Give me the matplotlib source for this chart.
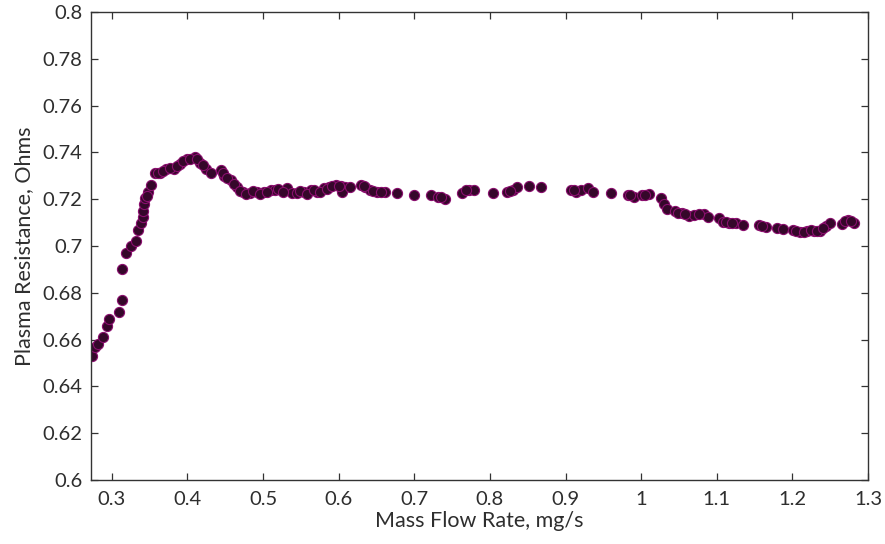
import matplotlib
matplotlib.use("Agg")
import matplotlib.pyplot as plt
from matplotlib.ticker import FuncFormatter, MultipleLocator

# mass flow rate (mg/s) and plasma resistance (ohms)
flow = [
    0.274, 0.278, 0.282, 0.288, 0.294, 0.296, 0.309, 0.314, 0.314, 0.319,
    0.325, 0.332, 0.335, 0.338, 0.341, 0.341, 0.343, 0.3485, 0.352, 0.357,
    0.364, 0.372, 0.382, 0.390, 0.399, 0.410, 0.417, 0.425, 0.431, 0.444,
    0.449, 0.457, 0.4656, 0.474, 0.483, 0.492, 0.501, 0.510, 0.516, 0.532,
    0.538, 0.545, 0.554, 0.563, 0.5715, 0.580, 0.587, 0.596, 0.6025, 0.609,
    0.6046, 0.629, 0.6355, 0.642, 0.651, 0.661, 0.677, 0.699, 0.722, 0.7315,
    0.740, 0.7633, 0.772, 0.779, 0.804, 0.823, 0.830, 0.8355, 0.852, 0.867,
    0.907, 0.914, 0.920, 0.930, 0.937, 0.960, 0.982, 0.991, 1.001, 1.011,
    1.026, 1.0306, 1.034, 1.045, 1.054, 1.063, 1.070, 1.0825, 1.088, 1.1035,
    1.108, 1.116, 1.1255, 1.1345, 1.156, 1.165, 1.180, 1.187, 1.2007, 1.210,
    1.2195, 1.228, 1.237, 1.245, 1.250, 1.265, 1.273, 1.282,
    # extra readings in the dense stretches
    0.3445, 0.346, 0.361, 0.368, 0.377, 0.386, 0.394, 0.404, 0.413, 0.421,
    0.447, 0.453, 0.461, 0.469, 0.478, 0.487, 0.496, 0.505, 0.520, 0.526,
    0.549, 0.558, 0.567, 0.576, 0.584, 0.591, 0.6, 0.615, 0.633, 0.646,
    0.656, 0.735, 0.768, 0.827, 0.911, 0.985, 1.005, 1.049, 1.058, 1.076,
    1.112, 1.120, 1.160, 1.205, 1.215, 1.224, 1.232, 1.241, 1.269, 1.278,
]
resistance = [
    0.653, 0.657, 0.658, 0.661, 0.666, 0.669, 0.672, 0.677, 0.690, 0.697,
    0.700, 0.702, 0.707, 0.710, 0.7125, 0.715, 0.718, 0.723, 0.726, 0.731,
    0.731, 0.733, 0.733, 0.735, 0.737, 0.738, 0.7355, 0.733, 0.731, 0.7325,
    0.730, 0.728, 0.725, 0.723, 0.7226, 0.723, 0.723, 0.724, 0.724, 0.7246,
    0.7225, 0.7227, 0.723, 0.724, 0.723, 0.7247, 0.7253, 0.726, 0.7256, 0.7253,
    0.723, 0.726, 0.725, 0.724, 0.723, 0.723, 0.7225, 0.722, 0.722, 0.721,
    0.720, 0.7226, 0.7241, 0.7241, 0.7228, 0.723, 0.724, 0.7253, 0.7255, 0.7253,
    0.724, 0.723, 0.724, 0.7247, 0.723, 0.7226, 0.7216, 0.721, 0.7218, 0.7224,
    0.7207, 0.718, 0.716, 0.7148, 0.714, 0.7128, 0.7132, 0.7137, 0.7122, 0.7118,
    0.7104, 0.710, 0.710, 0.7088, 0.709, 0.708, 0.7076, 0.7073, 0.7068, 0.7058,
    0.7062, 0.7066, 0.7064, 0.7085, 0.710, 0.7095, 0.711, 0.710,
    0.7205, 0.7215, 0.7312, 0.732, 0.7332, 0.734, 0.7362, 0.7372, 0.737, 0.7345,
    0.7312, 0.729, 0.7265, 0.7235, 0.7222, 0.7235, 0.7222, 0.7232, 0.7242, 0.7232,
    0.7235, 0.7222, 0.7238, 0.7232, 0.7245, 0.7255, 0.7258, 0.7250, 0.7255, 0.7235,
    0.7232, 0.7208, 0.7238, 0.7235, 0.7238, 0.7218, 0.722, 0.7142, 0.7135, 0.7138,
    0.7102, 0.7098, 0.7085, 0.7065, 0.706, 0.7068, 0.7066, 0.7075, 0.7108, 0.7105,
]

x_label = "Mass Flow Rate, mg/s"
y_label = "Plasma Resistance, Ohms"

txt = "#2e2e2e"
plt.rcParams["font.family"] = ["Lato", "DejaVu Sans"]

fig = plt.figure(figsize=(8.85, 5.44), dpi=100)
ax = fig.add_axes([0.1028, 0.1176, 0.878, 0.8604])

ax.plot(flow, resistance, linestyle="none", marker="o", markersize=7.3,
        markerfacecolor="#35072a", markeredgecolor="#8a0f6e",
        markeredgewidth=0.8)

ax.set_xlim(0.2725, 1.3)
ax.set_ylim(0.6, 0.8)
ax.xaxis.set_major_locator(MultipleLocator(0.1))
ax.yaxis.set_major_locator(MultipleLocator(0.02))
ax.xaxis.set_major_formatter(FuncFormatter(lambda v, p: f"{v:g}"))
ax.yaxis.set_major_formatter(FuncFormatter(lambda v, p: f"{round(v, 2):g}"))

ax.tick_params(direction="in", length=5, width=0.9, top=True, right=True,
               labelsize=14.5, labelcolor=txt, color="#333333")
ax.tick_params(axis="x", pad=8)
ax.tick_params(axis="y", pad=6)
for s in ax.spines.values():
    s.set_linewidth(1.0)
    s.set_color("#333333")

ax.set_xlabel(x_label, fontsize=15.5, color=txt, labelpad=2)
ax.set_ylabel(y_label, fontsize=15.5, color=txt, labelpad=6)

fig.savefig("out.png", dpi=100)
